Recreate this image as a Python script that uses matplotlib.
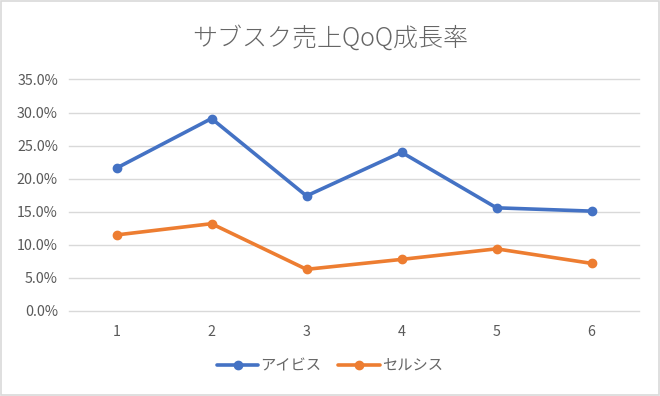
import matplotlib
matplotlib.use("Agg")
import matplotlib.pyplot as plt
from matplotlib.ticker import FuncFormatter, MultipleLocator
from matplotlib.patches import Rectangle

plt.rcParams['font.family'] = ['Noto Sans CJK JP', 'DejaVu Sans']

title = "サブスク売上QoQ成長率"
quarters = [1, 2, 3, 4, 5, 6]
series_names = ["アイビス", "セルシス"]
ibis = [0.216, 0.291, 0.174, 0.240, 0.156, 0.151]
celsys = [0.115, 0.132, 0.063, 0.078, 0.094, 0.072]
colors = ["#4472C4", "#ED7D31"]

fig = plt.figure(figsize=(6.6, 3.96), dpi=100)
fig.patch.set_facecolor("white")
fig.add_artist(Rectangle((0.0015, 0.0025), 0.997, 0.995, transform=fig.transFigure,
                         fill=False, edgecolor="#D9D9D9", linewidth=1.2))

ax = fig.add_axes([69/660, (396-311)/396, 570/660, (311-79.5)/396])
for vals, name, c in zip([ibis, celsys], series_names, colors):
    ax.plot(quarters, vals, color=c, linewidth=2.6, marker='o', markersize=6, label=name,
            solid_capstyle='round', zorder=3)

ax.set_xlim(0.5, 6.5)
ax.set_ylim(0, 0.35)
ax.yaxis.set_major_locator(MultipleLocator(0.05))
ax.yaxis.set_major_formatter(FuncFormatter(lambda v, p: f"{v*100:.1f}%"))
ax.set_xticks(quarters)
ax.set_xticklabels([str(q) for q in quarters])
ax.grid(axis='y', color="#D9D9D9", linewidth=1)
for gl in ax.get_ygridlines():
    gl.set_clip_on(False)
ax.set_axisbelow(True)
for s in ax.spines.values():
    s.set_visible(False)
ax.tick_params(axis='both', length=0, labelsize=10.3, labelcolor="#595959")
ax.tick_params(axis='y', pad=8)
ax.tick_params(axis='x', pad=10)

fig.text(0.5, 1 - 38/396, title, ha='center', va='center', fontsize=18, color="#666666",
         fontweight='light')

leg = fig.legend(loc='center', bbox_to_anchor=(0.5, 1 - 366/396), ncol=2, frameon=False,
                 fontsize=11, handlelength=2.7, columnspacing=1.1, handletextpad=0.15)
for t in leg.get_texts():
    t.set_color("#666666")

fig.savefig("out.png", dpi=100)
